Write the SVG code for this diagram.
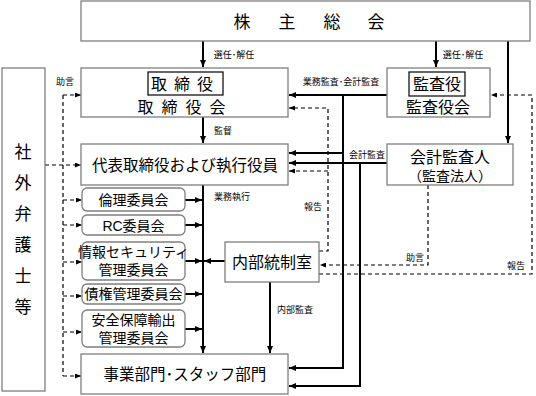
<svg xmlns="http://www.w3.org/2000/svg" width="536" height="396" viewBox="0 0 536 396">
<style>
.box{fill:#fff;stroke:#7f7f7f;stroke-width:1.3}
.ibox{fill:#fff;stroke:#000;stroke-width:1.2}
.t{font-family:"Liberation Sans","Noto Sans CJK JP",sans-serif;fill:#000;text-anchor:middle;dominant-baseline:central}
.big{font-size:17px}
.mid{font-size:16px}
.com{font-size:14px}
.lab{font-size:9px}
.s{fill:none;stroke:#000;stroke-width:2}
.d{fill:none;stroke:#000;stroke-width:1.2;stroke-dasharray:4 3}
</style>
<defs>
<marker id="a" markerUnits="userSpaceOnUse" markerWidth="7" markerHeight="6" refX="7" refY="3" orient="auto"><path d="M0,0 L7,3 L0,6 Z" fill="#000"/></marker>
<marker id="b" markerUnits="userSpaceOnUse" markerWidth="6" markerHeight="5" refX="6" refY="2.5" orient="auto"><path d="M0,0 L6,2.5 L0,5 Z" fill="#000"/></marker>
</defs>

<g id="connectors">
<path class="s" d="M203,41 V67" marker-end="url(#a)"/>
<path class="s" d="M203,117 V143" marker-end="url(#a)"/>
<path class="s" d="M203,185 V353" marker-end="url(#a)"/>
<path class="s" d="M436,41 V67" marker-end="url(#a)"/>
<path class="s" d="M508,41 V143" marker-end="url(#a)"/>
<path class="s" d="M185,200 H202" marker-end="url(#a)"/>
<path class="s" d="M185,225 H202" marker-end="url(#a)"/>
<path class="s" d="M185,261 H202" marker-end="url(#a)"/>
<path class="s" d="M185,294 H202" marker-end="url(#a)"/>
<path class="s" d="M185,329 H202" marker-end="url(#a)"/>
<path class="s" d="M225,261 H204" marker-end="url(#a)"/>
<path class="s" d="M270,282 V353" marker-end="url(#a)"/>
<path class="s" d="M387,95 H289" marker-end="url(#a)"/>
<path class="s" d="M343,95 V368 H289" marker-end="url(#a)"/>
<path class="s" d="M343,153 H289" marker-end="url(#a)"/>
<path class="s" d="M387,163 H289" marker-end="url(#a)"/>
<path class="s" d="M360,163 V386 H289" marker-end="url(#a)"/>
<path class="d" d="M319,251 H328 V108 H289" marker-end="url(#b)"/>
<path class="d" d="M328,171 H289" marker-end="url(#b)"/>
<path class="d" d="M428,185 V265 H320" marker-end="url(#b)"/>
<path class="d" d="M319,274 H532 V95 H491" marker-end="url(#b)"/>
<path class="d" d="M45,165 H81" marker-end="url(#b)"/>
<path class="d" d="M63,95 V376"/>
<path class="d" d="M63,95 H81" marker-end="url(#b)"/>
<path class="d" d="M63,200 H82" marker-end="url(#b)"/>
<path class="d" d="M63,225 H82" marker-end="url(#b)"/>
<path class="d" d="M63,262 H82" marker-end="url(#b)"/>
<path class="d" d="M63,296 H82" marker-end="url(#b)"/>
<path class="d" d="M63,332 H82" marker-end="url(#b)"/>
<path class="d" d="M63,376 H81" marker-end="url(#b)"/>
<text class="t lab" x="234" y="55">選任･解任</text>
<text class="t lab" x="463" y="55">選任･解任</text>
<text class="t lab" x="223" y="131">監督</text>
<text class="t lab" x="232" y="197">業務執行</text>
<text class="t lab" x="341" y="82">業務監査･会計監査</text>
<text class="t lab" x="367" y="155">会計監査</text>
<text class="t lab" x="313" y="207">報告</text>
<text class="t lab" x="415" y="258">助言</text>
<text class="t lab" x="516" y="266">報告</text>
<text class="t lab" x="295" y="310">内部監査</text>
<text class="t lab" x="65" y="82">助言</text>
</g>

<g id="shareholders">
<rect class="box" x="81" y="1" width="449" height="40"/>
<text class="t big" x="242" y="22">株</text>
<text class="t big" x="287" y="22">主</text>
<text class="t big" x="332" y="22">総</text>
<text class="t big" x="376" y="22">会</text>
</g>

<g id="board">
<rect class="box" x="81" y="68" width="207" height="49"/>
<rect class="ibox" x="148" y="72" width="75" height="23"/>
<text class="t mid" x="185.5" y="84" letter-spacing="7">取締役</text>
<text class="t mid" x="185.5" y="107" letter-spacing="8">取締役会</text>
</g>

<g id="auditors">
<rect class="box" x="387" y="68" width="103" height="49"/>
<rect class="ibox" x="409" y="72" width="56" height="24"/>
<text class="t mid" x="437" y="84">監査役</text>
<text class="t mid" x="438" y="107">監査役会</text>
</g>

<g id="executives">
<rect class="box" x="81" y="144" width="207" height="41"/>
<text class="t" style="font-size:15.5px" x="185" y="165">代表取締役および執行役員</text>
</g>

<g id="accounting-auditor">
<rect class="box" x="387" y="144" width="126" height="41"/>
<text class="t mid" x="450" y="157">会計監査人</text>
<text class="t com" x="450" y="176">（監査法人）</text>
</g>

<g id="lawyers">
<rect class="box" x="2" y="68" width="43" height="323"/>
<text class="t big" x="23" y="152">社</text>
<text class="t big" x="23" y="183">外</text>
<text class="t big" x="23" y="214">弁</text>
<text class="t big" x="23" y="245">護</text>
<text class="t big" x="23" y="276">士</text>
<text class="t big" x="23" y="307">等</text>
</g>

<g id="ethics">
<rect class="box" x="82" y="188" width="103" height="23" rx="5"/>
<text class="t com" x="133.5" y="200">倫理委員会</text>
</g>
<g id="rc">
<rect class="box" x="82" y="215" width="103" height="20" rx="5"/>
<text class="t com" x="133.5" y="225.5">RC委員会</text>
</g>
<g id="infosec">
<rect class="box" x="82" y="242" width="103" height="38" rx="5"/>
<text class="t com" x="133.5" y="252">情報セキュリティ</text>
<text class="t com" x="133.5" y="270">管理委員会</text>
</g>
<g id="credit">
<rect class="box" x="82" y="284" width="103" height="20" rx="5"/>
<text class="t com" x="133.5" y="294">債権管理委員会</text>
</g>
<g id="export">
<rect class="box" x="82" y="310" width="103" height="37" rx="5"/>
<text class="t com" x="133.5" y="320">安全保障輸出</text>
<text class="t com" x="133.5" y="338">管理委員会</text>
</g>

<g id="internal-control">
<rect class="box" x="225" y="242" width="94" height="40"/>
<text class="t mid" x="272" y="262">内部統制室</text>
</g>

<g id="business">
<rect class="box" x="81" y="354" width="207" height="40"/>
<text class="t" style="font-size:15.5px" x="185" y="374">事業部門･スタッフ部門</text>
</g>
</svg>
